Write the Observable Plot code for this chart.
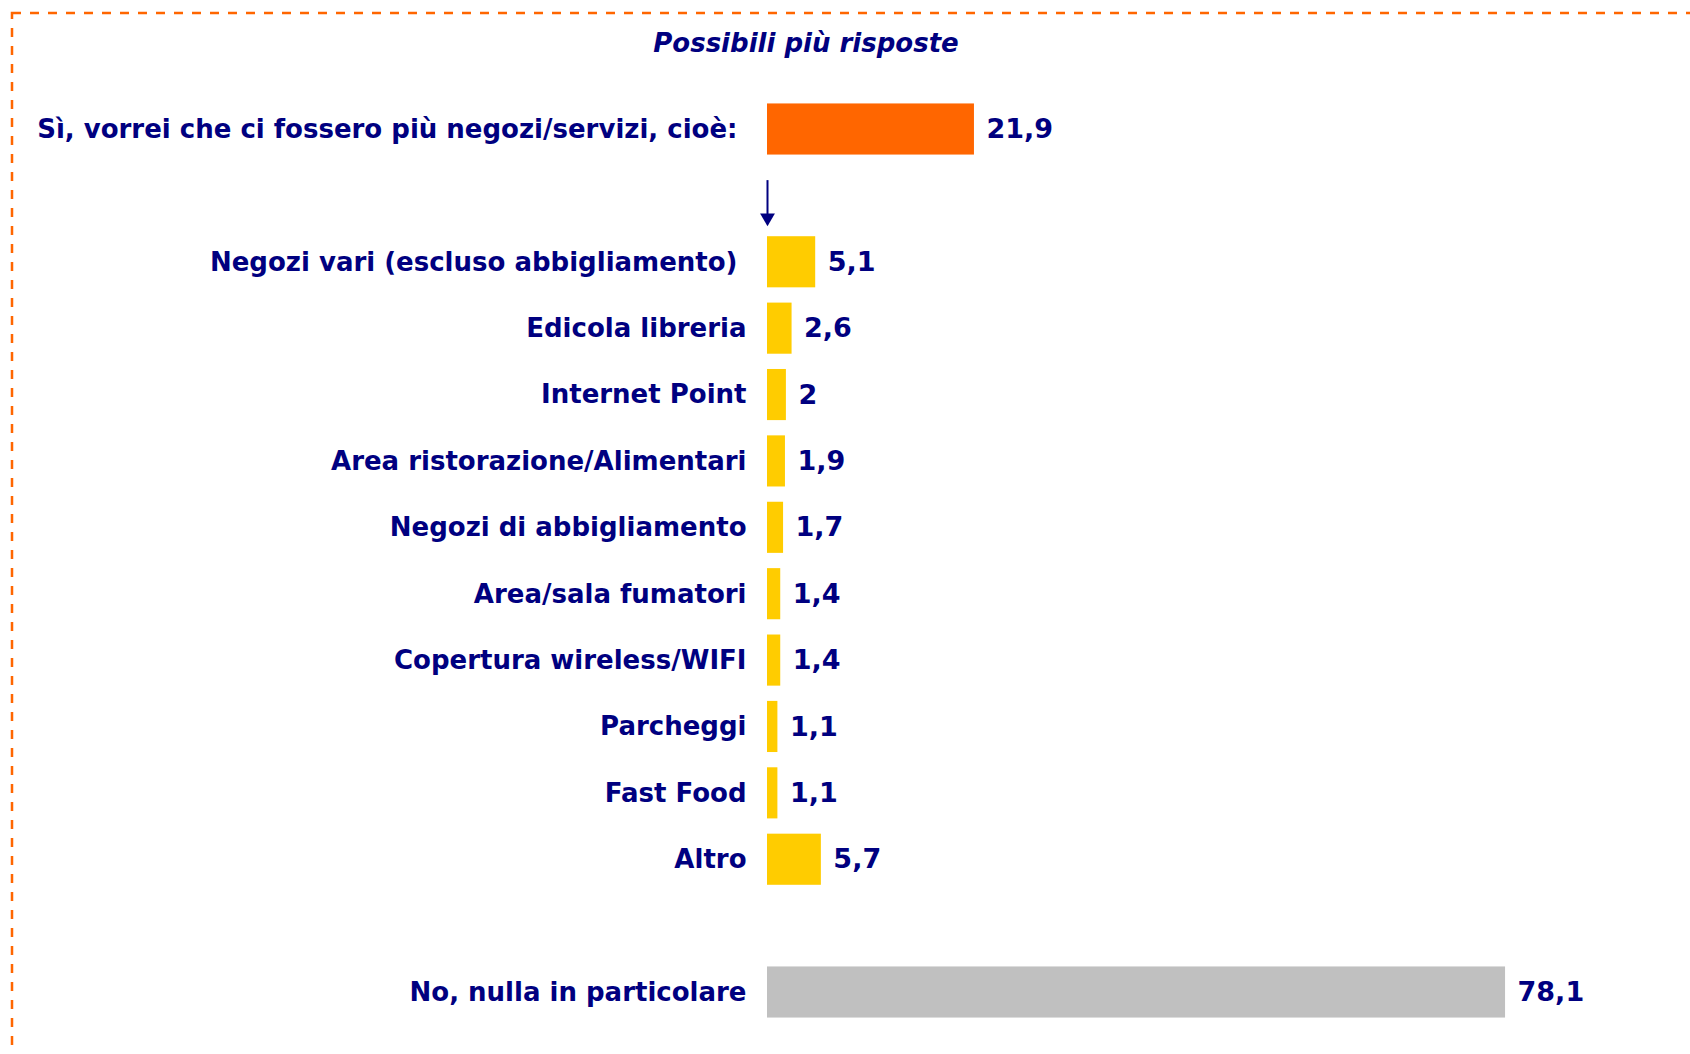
<!DOCTYPE html>
<html>
<head>
<meta charset="utf-8">
<script src="https://cdn.jsdelivr.net/npm/d3@7"></script>
<script src="https://cdn.jsdelivr.net/npm/@observablehq/plot@0.6"></script>
<style>
  html, body { margin: 0; padding: 0; background: #fff; overflow: hidden; }
  body { width: 1690px; height: 1054px; position: relative; font-family: "DejaVu Sans", sans-serif; }
  #border { position: absolute; left: 0; top: 0; pointer-events: none; }
  #title { height: 80px; width: 1690px; position: relative; }
  #title span { position: absolute; left: 0; width: 1612px; top: 28px; text-align: center;
    color: #000080; font-weight: bold; font-style: italic; font-size: 26px; }
  #chart { position: relative; }
</style>
</head>
<body>
<svg id="border" width="1690" height="1054">
  <rect x="12" y="13" width="1720" height="1100" fill="none" stroke="#FF6600" stroke-width="2.5" stroke-dasharray="9 9"></rect>
</svg>
<div id="title"><span>Possibili più risposte</span></div>
<div id="chart"></div>
<script>
// ---- data ----
const mainLabel = "Sì, vorrei che ci fossero più negozi/servizi, cioè:";
const mainValue = 21.9;
const detailLabels = [
  "Negozi vari (escluso abbigliamento)",
  "Edicola libreria",
  "Internet Point",
  "Area ristorazione/Alimentari",
  "Negozi di abbigliamento",
  "Area/sala fumatori",
  "Copertura wireless/WIFI",
  "Parcheggi",
  "Fast Food",
  "Altro"
];
const detailValues = [5.1, 2.6, 2, 1.9, 1.7, 1.4, 1.4, 1.1, 1.1, 5.7];
const noLabel = "No, nulla in particolare";
const noValue = 78.1;

const colors = {main: "#FF6600", detail: "#FFCC00", no: "#C0C0C0"};
const navy = "#000080";

// ---- layout rows (null = empty slot) ----
const layout = [
  {label: mainLabel, value: mainValue, group: "main"},
  null,
  ...detailLabels.map((l, i) => ({label: l, value: detailValues[i], group: "detail"})),
  null,
  {label: noLabel, value: noValue, group: "no"}
];
const rows = layout.map((d, i) => d && {...d, pos: i}).filter(d => d);
const arrowSlot = layout.indexOf(null);
const fmt = v => String(v).replace(".", ",");
const half = 0.385;
const wideGap = d => d.pos <= 2; // first two labels sit a little further from the bars

const chart = Plot.plot({
  width: 1690,
  height: 974,
  marginLeft: 767,
  marginRight: 72.5,
  marginTop: 49,
  marginBottom: 62,
  x: {domain: [0, 90], axis: null},
  y: {domain: [0, layout.length - 1], axis: null, reverse: true},
  style: {fontFamily: "DejaVu Sans, sans-serif", background: "transparent"},
  marks: [
    Plot.rectX(rows, {x1: 0, x2: "value", y1: d => d.pos - half, y2: d => d.pos + half,
      fill: d => colors[d.group]}),
    Plot.text(rows.filter(d => !wideGap(d)), {x: 0, y: "pos", text: "label", textAnchor: "end", dx: -21,
      fill: navy, fontWeight: "bold", fontSize: 26}),
    Plot.text(rows.filter(wideGap), {x: 0, y: "pos", text: "label", textAnchor: "end", dx: -30,
      fill: navy, fontWeight: "bold", fontSize: 26}),
    Plot.text(rows, {x: "value", y: "pos", text: d => fmt(d.value), textAnchor: "start", dx: 12,
      fill: navy, fontWeight: "bold", fontSize: 27}),
    Plot.ruleX([arrowSlot], {x: 0, y1: d => d - 0.23, y2: d => d + 0.3, stroke: navy, strokeWidth: 2}),
    Plot.dot([arrowSlot], {x: 0, y: d => d + 0.33, symbol: "triangle", rotate: 180, r: 5.5, fill: navy, stroke: "none"})
  ]
});
document.getElementById("chart").appendChild(chart);
</script>
</body>
</html>
